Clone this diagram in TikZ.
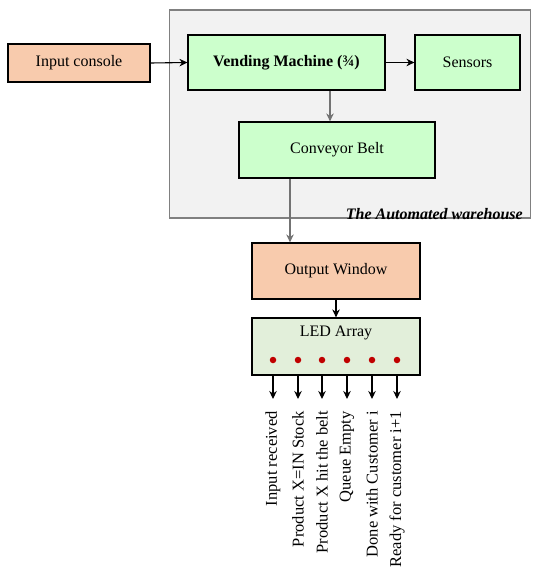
\documentclass[tikz,border=0pt]{standalone}
\usepackage{fontspec}
\setmainfont{Liberation Serif}
\usetikzlibrary{arrows.meta,calc}
\definecolor{peach}{HTML}{F8CBAD}
\definecolor{lgreen}{HTML}{CCFFCC}
\definecolor{ledfill}{HTML}{E2EFDA}
\definecolor{whfill}{HTML}{F2F2F2}
\definecolor{whline}{HTML}{808080}
\definecolor{ledred}{HTML}{C00000}
\tikzset{
  box/.style={draw=black, line width=1.2pt, inner sep=0pt, font=\fontsize{16}{19}\selectfont},
  peachbox/.style={box, fill=peach},
  greenbox/.style={box, fill=lgreen},
  arr/.style={-{Stealth[length=8pt,width=7.5pt]}, line width=1.1pt, black},
  grayarr/.style={-{Stealth[length=8pt,width=7.5pt]}, line width=2pt, whline!90!black},
  ledtxt/.style={rotate=90, anchor=east, inner sep=0pt, font=\fontsize{16.5}{19}\selectfont},
  led/.style={circle, fill=ledred, inner sep=0pt, minimum size=6.5pt}
}
\begin{document}
\begin{tikzpicture}[x=1pt,y=-1pt]
\useasboundingbox (0,0) rectangle (533,569);
% warehouse
\node[draw=whline, fill=whfill, line width=1.8pt, minimum width=361pt, minimum height=208pt, inner sep=0pt] (wh) at (350,114) {};
\node[anchor=south east, inner sep=0pt, font=\fontsize{16}{19}\selectfont\bfseries\itshape] (whl) at (523,220) {The Automated warehouse};
% nodes
\node[peachbox, minimum width=142pt, minimum height=38pt] (ic) at (79,63) {Input console};
\node[greenbox, minimum width=197pt, minimum height=55pt] (vm) at (286.5,62.5) {\bfseries Vending Machine (¾)};
\node[greenbox, minimum width=105pt, minimum height=55pt] (se) at (467.5,62.5) {Sensors};
\node[greenbox, minimum width=196pt, minimum height=56pt] (cb) at (337,150) {Conveyor Belt};
\node[peachbox, minimum width=168pt, minimum height=56pt] (ow) at (336,271) {Output Window};
\node[box, fill=ledfill, minimum width=168pt, minimum height=57pt] (la) at (336,346.5) {};
\node[inner sep=0pt, font=\fontsize{16}{19}\selectfont] (lat) at (336,333) {LED Array};
% connectors
\draw[arr] (ic.east) -- (vm.west);
\draw[arr] (vm.east) -- (se.west);
\draw[grayarr] ([xshift=43.5pt]vm.south) -- ([xshift=43.5pt]vm.south |- cb.north);
\draw[grayarr] ([xshift=-47pt]cb.south) -- ([xshift=-47pt]cb.south |- ow.north);
\draw[arr] (ow.south) -- (la.north);
% LEDs and outputs
\foreach \i/\x/\t in {1/273/Input received, 2/298/Product X=IN Stock, 3/322/Product X hit the belt, 4/347/Queue Empty, 5/372/Done with Customer i, 6/397/Ready for customer i+1}{
  \node[led] (d\i) at (\x,360) {};
  \coordinate (s\i) at (\x,375);
  \coordinate (e\i) at (\x,399);
  \draw[arr] (s\i) -- (e\i);
  \node[ledtxt] (t\i) at (\x,411) {\t};
}
\end{tikzpicture}
\end{document}
